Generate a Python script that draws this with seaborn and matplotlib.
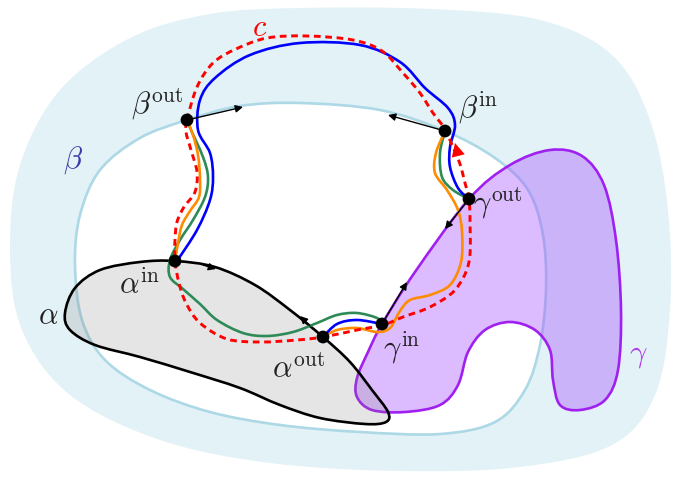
#Curve diagram: regions alpha, beta, gamma and the loop c
#outline nodes are read off the reference picture (pixel coords)

import numpy as np
import matplotlib
matplotlib.use('Agg')
import matplotlib.pyplot as plt
import seaborn as sns
import pandas as pd
from matplotlib.path import Path
from matplotlib.patches import PathPatch

#region outlines
outer_blob = [(300, 8), (430, 9), (540, 20), (612, 55), (650, 120), (668, 210), (670, 310),
              (655, 395), (612, 445), (520, 467), (400, 471), (270, 463), (160, 440), (70, 395),
              (22, 330), (10, 250), (20, 165), (60, 90), (130, 38), (210, 14)]
beta_region = [(187, 120), (240, 106), (300, 103), (380, 110), (445, 131), (495, 158), (528, 190),
               (543, 235), (546, 290), (540, 345), (525, 390), (495, 422), (440, 434), (360, 432),
               (280, 425), (210, 412), (150, 390), (105, 360), (82, 320), (75, 265), (80, 215),
               (100, 170), (140, 138)]
alpha_region = [(175, 261), (215, 267), (255, 285), (290, 310), (323, 337), (350, 362), (372, 390),
                (388, 412), (386, 422), (365, 424), (320, 418), (280, 405), (240, 388), (190, 372),
                (140, 357), (95, 345), (70, 330), (65, 313), (75, 288), (100, 270), (140, 262)]
gamma_region = [(382, 324), (415, 272), (469, 199), (510, 165), (550, 150), (582, 156), (604, 185),
                (616, 240), (621, 310), (618, 370), (605, 400), (580, 410), (560, 405), (553, 380),
                (550, 350), (535, 330), (510, 322), (485, 330), (468, 352), (458, 385), (440, 405),
                (405, 412), (372, 410), (357, 397), (357, 378), (368, 352)]

#the loop c and the coloured paths
red_c = [(187, 120), (197, 87), (213, 63), (236, 49), (267, 38), (307, 36), (353, 40), (382, 51),
         (403, 73), (420, 93), (433, 113), (445, 129), (452, 145), (460, 164), (465, 183),
         (469, 199), (470, 222), (469, 262), (455, 290), (430, 307), (403, 317), (383, 325),
         (357, 330), (323, 337), (297, 340), (260, 342), (227, 339), (200, 323), (186, 303),
         (179, 283), (175, 261), (175, 240), (177, 222), (184, 207), (195, 192), (197, 172),
         (191, 150), (186, 132)]
blue_top = [(177, 261), (197, 230), (210, 200), (213, 177), (210, 153), (198, 130), (200, 100),
            (215, 78), (250, 55), (300, 43), (360, 45), (400, 62), (425, 88), (448, 108),
            (455, 125), (450, 147), (450, 167), (458, 188), (469, 199)]
blue_low = [(323, 337), (337, 324), (357, 320), (382, 324)]
green_left = [(187, 120), (191, 130), (203, 157), (208, 177), (205, 197), (193, 220), (180, 240),
              (170, 260), (170, 277), (183, 289), (200, 304), (217, 320), (243, 333), (267, 336),
              (293, 332), (317, 323), (337, 315), (357, 313), (377, 318), (382, 324)]
green_right = [(445, 131), (440, 153), (442, 177), (453, 190), (469, 199)]
orange_left = [(187, 120), (193, 135), (198, 155), (200, 178), (199, 197), (190, 211), (182, 225),
               (178, 243), (175, 261)]
orange_right = [(445, 131), (436, 153), (435, 173), (447, 190), (458, 210), (462, 232),
                (461, 262), (450, 285), (430, 295), (410, 300), (400, 311), (390, 328),
                (377, 332), (357, 328), (337, 330), (323, 337)]

#marked points
pt_names = ['beta_out', 'beta_in', 'gamma_out', 'alpha_in', 'alpha_out', 'gamma_in']
pt_x = [187, 445, 469, 175, 323, 382]
pt_y = [120, 131, 199, 261, 337, 324]

#short tangent arrows (tail, head)
arrow_tail = [(187, 120), (445, 131), (469, 199), (382, 324), (203, 265), (310, 326)]
arrow_head = [(243, 107), (388, 115), (445, 229), (407, 282), (216, 269), (300, 316)]

#labels
label_text = [r'$c$', r'$\beta^{\mathrm{out}}$', r'$\beta^{\mathrm{in}}$', r'$\beta$',
              r'$\gamma^{\mathrm{out}}$', r'$\alpha^{\mathrm{in}}$', r'$\alpha$',
              r'$\alpha^{\mathrm{out}}$', r'$\gamma^{\mathrm{in}}$', r'$\gamma$']
label_x = [260, 157, 478, 73, 498, 140, 48, 299, 402, 638]
label_y = [27, 104, 108, 160, 203, 284, 316, 369, 348, 356]
label_col = ['#ff0000', '#222222', '#222222', '#3a3aa8', '#222222', '#222222', '#222222',
             '#222222', '#222222', '#b040e8']


def smooth(pts, closed=False):
    #catmull-rom nodes -> cubic bezier path
    p = np.asarray(pts, float)
    n = len(p)
    verts = [p[0]]
    codes = [Path.MOVETO]
    segs = n if closed else n - 1
    for i in range(segs):
        p0 = p[(i - 1) % n] if (closed or i > 0) else p[0]
        p1 = p[i]
        p2 = p[(i + 1) % n]
        p3 = p[(i + 2) % n] if (closed or i + 2 < n) else p[-1]
        verts += [p1 + (p2 - p0) / 6, p2 - (p3 - p1) / 6, p2]
        codes += [Path.CURVE4] * 3
    if closed:
        verts.append(p[0])
        codes.append(Path.CLOSEPOLY)
    return Path(verts, codes)


sns.set_style("white")
plt.rcParams['mathtext.fontset'] = 'cm'

fig = plt.figure(figsize=(6.76, 4.79), dpi=100)
ax = fig.add_axes([0, 0, 1, 1])

#regions
ax.add_patch(PathPatch(smooth(outer_blob, True), facecolor='#e3f2f6', edgecolor='none', zorder=1))
ax.add_patch(PathPatch(smooth(beta_region, True), facecolor='white', edgecolor='#add8e6', lw=1.9, zorder=2))
ax.add_patch(PathPatch(smooth(gamma_region, True), facecolor=(0.65, 0.3, 1.0, 0.38),
                       edgecolor='#a020f0', lw=1.9, zorder=3))
ax.add_patch(PathPatch(smooth(alpha_region, True), facecolor=(0.5, 0.5, 0.5, 0.2),
                       edgecolor='black', lw=1.9, zorder=4))

#paths
for pts, col in [(green_left, '#2e8b57'), (green_right, '#2e8b57'),
                 (orange_left, '#ff8c00'), (orange_right, '#ff8c00'),
                 (blue_top, '#0000ff'), (blue_low, '#0000ff')]:
    ax.add_patch(PathPatch(smooth(pts), facecolor='none', edgecolor=col, lw=1.9, zorder=5))
ax.add_patch(PathPatch(smooth(red_c, True), facecolor='none', edgecolor='#ff0000', lw=2.1,
                       linestyle=(0, (2.3, 1.6)), zorder=6))
ax.annotate('', xy=(455, 143), xytext=(461, 167),
            arrowprops=dict(arrowstyle='-|>', color='#ff0000', lw=0, mutation_scale=24,
                            shrinkA=0, shrinkB=0), zorder=6)

#tangent arrows
for t, h in zip(arrow_tail, arrow_head):
    ax.annotate('', xy=h, xytext=t,
                arrowprops=dict(arrowstyle='-|>', color='black', lw=1.0, mutation_scale=11,
                                shrinkA=0, shrinkB=0), zorder=7)

#points
df = pd.DataFrame({'name': pt_names, 'x': pt_x, 'y': pt_y})
sns.scatterplot(data=df, x='x', y='y', color='black', s=85, edgecolor='none', ax=ax, zorder=8)
ax.set_xlim(0, 676)
ax.set_ylim(479, 0)
ax.set_aspect('equal')
ax.axis('off')

for txt, x, y, c in zip(label_text, label_x, label_y, label_col):
    ax.text(x, y, txt, color=c, fontsize=22, ha='center', va='center', zorder=9)

plt.savefig('out.png', dpi=100)
